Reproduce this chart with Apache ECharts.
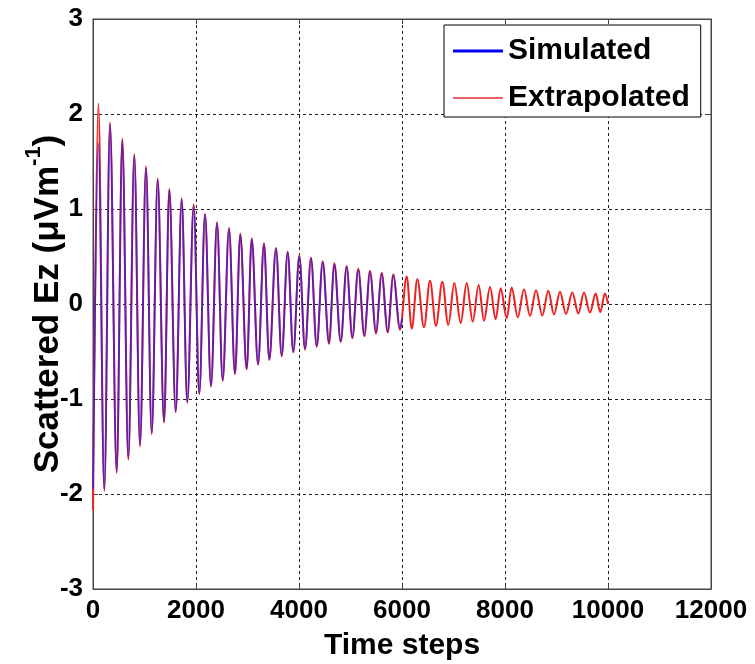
<!DOCTYPE html>
<html><head><meta charset="utf-8">
<script src="https://cdn.jsdelivr.net/npm/echarts@6/dist/echarts.min.js"></script>
<style>html,body{margin:0;padding:0;background:#fff}#c{width:755px;height:664px}</style>
</head><body><div id="c"></div>
<script>
// Times (time steps) of the troughs and peaks
const troughT = [0, 220, 460, 686, 913, 1140, 1379, 1606, 1831, 2064, 2291, 2518, 2757, 2984,
  3205, 3423, 3664, 3889, 4117, 4344, 4583, 4810, 5035, 5268, 5495, 5722, 5961,
  6190, 6427, 6660, 6899, 7140, 7373, 7592, 7819, 8033, 8247, 8485, 8724, 8951, 9184, 9424, 9650, 9850];
const peakT = [103, 330, 569, 802, 1029, 1256, 1482, 1722, 1955, 2175, 2408, 2641, 2860, 3082,
  3320, 3553, 3780, 4006, 4233, 4460, 4686, 4926, 5152, 5379, 5606, 5831,
  6091, 6297, 6544, 6783, 7016, 7256, 7489, 7709, 7916, 8130, 8369, 8602, 8841, 9068, 9307, 9534, 9761, 9940];

// Simulated (blue) extrema values
const simTroughV = [-1.95, -1.95, -1.76, -1.62, -1.48, -1.36, -1.24, -1.13, -1.03, -0.94, -0.86, -0.80, -0.73, -0.68,
  -0.63, -0.58, -0.54, -0.50, -0.47, -0.44, -0.41, -0.39, -0.35, -0.33, -0.30, -0.29, -0.26];
const simPeakV = [1.69, 1.89, 1.72, 1.56, 1.43, 1.31, 1.20, 1.10, 1.03, 0.94, 0.85, 0.79, 0.73, 0.68,
  0.63, 0.58, 0.54, 0.50, 0.48, 0.44, 0.42, 0.39, 0.36, 0.34, 0.32, 0.30];
const simEnd = [6000, -0.15];

// Extrapolated (red) extrema values
const extTroughV = [-2.17, -1.97, -1.78, -1.64, -1.50, -1.37, -1.25, -1.14, -1.04, -0.95, -0.87, -0.81, -0.74, -0.69,
  -0.64, -0.59, -0.55, -0.51, -0.48, -0.45, -0.42, -0.40, -0.36, -0.34, -0.31, -0.30, -0.27,
  -0.26, -0.245, -0.23, -0.22, -0.20, -0.185, -0.175, -0.16, -0.15, -0.14, -0.125, -0.12, -0.11, -0.105, -0.10, -0.09, -0.085];
const extPeakV = [2.11, 1.91, 1.74, 1.58, 1.45, 1.32, 1.21, 1.11, 1.05, 0.95, 0.86, 0.80, 0.74, 0.69,
  0.64, 0.59, 0.55, 0.51, 0.49, 0.45, 0.43, 0.40, 0.37, 0.35, 0.33, 0.31,
  0.29, 0.26, 0.245, 0.235, 0.22, 0.22, 0.20, 0.18, 0.165, 0.175, 0.155, 0.145, 0.14, 0.13, 0.12, 0.12, 0.11, 0.11];
const extEnd = [10000, 0.0];

const seriesNames = ['Simulated', 'Extrapolated'];
const xRange = [0, 12000, 2000];
const yRange = [-3, 3, 1];

function build(tv, pv, end) {
  const d = [];
  for (let i = 0; i < tv.length; i++) {
    d.push([troughT[i], tv[i]]);
    if (i < pv.length) d.push([peakT[i], pv[i]]);
  }
  d.push(end);
  return d;
}

const FONT = '"Liberation Sans", Arial, sans-serif';
const chart = echarts.init(document.getElementById('c'), null, {renderer: 'canvas'});
const labelStyle = {fontFamily: FONT, fontWeight: 'bold', fontSize: 26, color: '#000', formatter: v => String(v)};

chart.setOption({
  animation: false,
  backgroundColor: '#fff',
  grid: {left: 93, right: 44, top: 19, bottom: 75, show: true, borderColor: '#444', borderWidth: 1,
    containLabel: false, outerBoundsMode: 'none'},
  legend: {
    left: 444, top: 25, orient: 'vertical',
    backgroundColor: '#fff', borderColor: '#000', borderWidth: 1, borderRadius: 0,
    padding: [8, 11, 1, 9], itemGap: 11, itemWidth: 50, itemHeight: 14,
    textStyle: {fontFamily: FONT, fontWeight: 'bold', fontSize: 30, color: '#000', lineHeight: 36},
    data: [
      {name: seriesNames[0], icon: 'path://M0,0L50,0L50,3L0,3Z', itemStyle: {color: '#0000ee'}},
      {name: seriesNames[1], icon: 'path://M0,0L50,0L50,2L0,2Z', itemStyle: {color: '#e8606a'}}
    ],
    z: 10
  },
  xAxis: [{
    type: 'value', min: xRange[0], max: xRange[1], interval: xRange[2],
    name: 'Time steps', nameLocation: 'middle', nameGap: 42, nameMoveOverlap: false,
    nameTextStyle: {fontFamily: FONT, fontWeight: 'bold', fontSize: 30, color: '#000'},
    axisLine: {show: true, onZero: false, lineStyle: {color: '#444', width: 1}},
    axisTick: {show: true, inside: true, length: 5, lineStyle: {color: '#444'}},
    axisLabel: Object.assign({margin: 9}, labelStyle),
    splitLine: {show: true, lineStyle: {color: '#222', type: [3, 3], width: 1}}
  }, {
    type: 'value', position: 'top', min: xRange[0], max: xRange[1], interval: xRange[2],
    axisLine: {show: true, onZero: false, lineStyle: {color: '#444'}},
    axisTick: {show: true, inside: true, length: 5, lineStyle: {color: '#444'}},
    axisLabel: {show: false}, splitLine: {show: false}
  }],
  yAxis: [{
    type: 'value', min: yRange[0], max: yRange[1], interval: yRange[2],
    name: 'Scattered Ez (μVm{sup|-1})', nameLocation: 'middle', nameGap: 20, nameMoveOverlap: false,
    nameTextStyle: {fontFamily: FONT, fontWeight: 'bold', fontSize: 35, color: '#000', lineHeight: 50,
      rich: {sup: {fontFamily: FONT, fontWeight: 'bold', fontSize: 22, color: '#000', verticalAlign: 'top', lineHeight: 22}}},
    axisLine: {show: true, onZero: false, lineStyle: {color: '#444', width: 1}},
    axisTick: {show: true, inside: true, length: 5, lineStyle: {color: '#444'}},
    axisLabel: Object.assign({margin: 10}, labelStyle),
    splitLine: {show: true, lineStyle: {color: '#222', type: [3, 3], width: 1}}
  }, {
    type: 'value', position: 'right', min: yRange[0], max: yRange[1], interval: yRange[2],
    axisLine: {show: true, onZero: false, lineStyle: {color: '#444'}},
    axisTick: {show: true, inside: true, length: 5, lineStyle: {color: '#444'}},
    axisLabel: {show: false}, splitLine: {show: false}
  }],
  series: [{
    name: seriesNames[1], type: 'line', symbol: 'none', smooth: 0.35, smoothMonotone: 'x',
    data: build(extTroughV, extPeakV, extEnd),
    lineStyle: {color: '#ee2020', width: 2}, itemStyle: {color: '#e8606a'}, z: 2
  }, {
    name: seriesNames[0], type: 'line', symbol: 'none', smooth: 0.35, smoothMonotone: 'x',
    data: build(simTroughV, simPeakV, simEnd),
    lineStyle: {color: '#2a1ee6', width: 1.8, opacity: 0.75}, itemStyle: {color: '#0000ee'}, z: 3
  }]
});
</script>
</body></html>
